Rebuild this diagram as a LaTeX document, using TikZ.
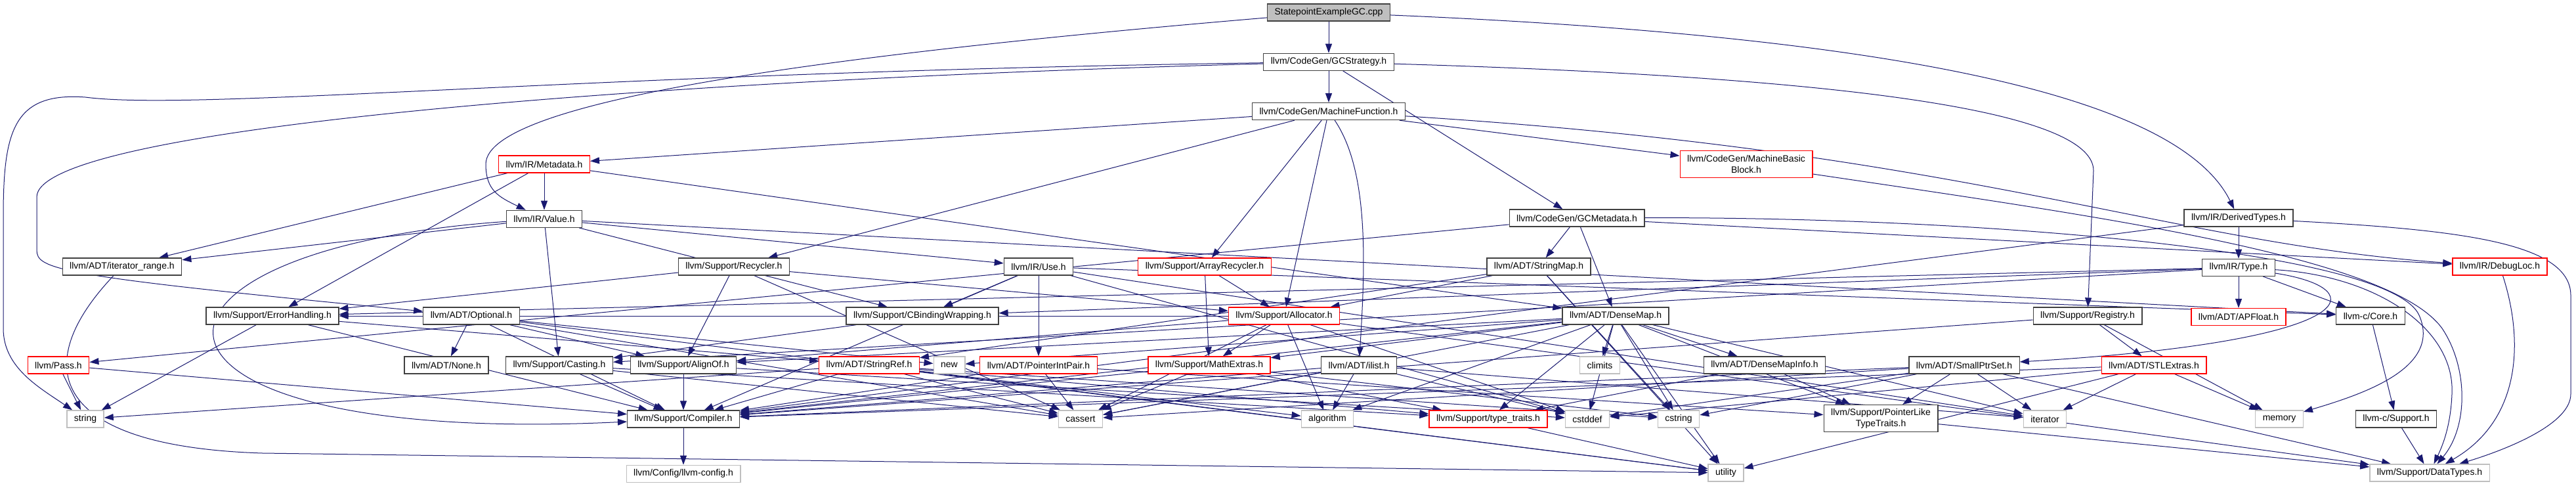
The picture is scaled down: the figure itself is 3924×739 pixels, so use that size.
\documentclass[tikz,border=0pt]{standalone}
\usepackage{fontspec}
\setmainfont{Liberation Sans}
\usetikzlibrary{arrows.meta,positioning}
\definecolor{edgeblue}{RGB}{25,25,112}
\definecolor{srcgrey}{RGB}{191,191,191}
\definecolor{sysgrey}{RGB}{191,191,191}
\definecolor{cutred}{RGB}{255,0,0}
\pgfdeclarelayer{back}
\pgfsetlayers{back,main}

\begin{document}
\begin{tikzpicture}[x=0.5pt,y=-0.5pt,node distance=24pt,
  every node/.style={font=\fontsize{7}{8.4}\selectfont},
  hdr/.style={draw=black!75,line width=0.65pt,fill=white,inner xsep=5.5pt,inner ysep=1pt,
              minimum height=13pt,align=center},
  cut/.style={hdr,draw=cutred},
  sys/.style={hdr,draw=sysgrey},
  srcfile/.style={hdr,fill=srcgrey},
  ar/.style={-{Triangle[length=7pt,width=5pt]},edgeblue,line width=0.5pt}]

\useasboundingbox (0,0) rectangle (3924,739);

\node[srcfile] (root) at (2024,19) {StatepointExampleGC.cpp};
\node[hdr,below=of root] (gcs) {llvm/CodeGen/GCStrategy.h};
\node[hdr,below=of gcs] (mf) {llvm/CodeGen/MachineFunction.h};

\node[cut] (meta) at (829,250) {llvm/IR/Metadata.h};
\node[cut,minimum height=20.5pt] (mbb) at (2660,250) {llvm/CodeGen/MachineBasic\\Block.h};

\node[hdr,below=28pt of meta] (val) {llvm/IR/Value.h};
\node[hdr] (gcmeta) at (2402,332) {llvm/CodeGen/GCMetadata.h};
\node[hdr] (dtypes) at (3410,332) {llvm/IR/DerivedTypes.h};

\node[hdr] (itr) at (186,406) {llvm/ADT/iterator\_range.h};
\node[hdr] (recyc) at (1118,406) {llvm/Support/Recycler.h};
\node[hdr] (use) at (1582,406) {llvm/IR/Use.h};
\node[cut] (arecyc) at (1835,406) {llvm/Support/ArrayRecycler.h};
\node[hdr] (smap) at (2344,406) {llvm/ADT/StringMap.h};
\node[hdr,below=of dtypes] (type) {llvm/IR/Type.h};
\node[cut] (dloc) at (3808,406) {llvm/IR/DebugLoc.h};

\node[hdr] (errh) at (415,481) {llvm/Support/ErrorHandling.h};
\node[hdr] (opt) at (718,481) {llvm/ADT/Optional.h};
\node[hdr] (cbind) at (1405,481) {llvm/Support/CBindingWrapping.h};
\node[cut] (alloc) at (1956,481) {llvm/Support/Allocator.h};
\node[hdr] (dmap) at (2461,481) {llvm/ADT/DenseMap.h};
\node[hdr] (reg) at (3180,481) {llvm/Support/Registry.h};
\node[cut,below=of type] (apf) {llvm/ADT/APFloat.h};
\node[hdr] (ccore) at (3611,481) {llvm-c/Core.h};

\node[cut] (pass) at (89,556) {llvm/Pass.h};
\node[hdr] (none) at (680,556) {llvm/ADT/None.h};
\node[hdr] (cast) at (852,556) {llvm/Support/Casting.h};
\node[hdr] (align) at (1041,556) {llvm/Support/AlignOf.h};
\node[cut] (sref) at (1324,556) {llvm/ADT/StringRef.h};
\node[sys] (new) at (1446,556) {new};
\node[cut] (pip) at (1582,556) {llvm/ADT/PointerIntPair.h};
\node[cut] (math) at (1842,556) {llvm/Support/MathExtras.h};
\node[hdr] (ilist) at (2070,556) {llvm/ADT/ilist.h};
\node[sys] (climits) at (2437,556) {climits};
\node[hdr] (dmi) at (2688,556) {llvm/ADT/DenseMapInfo.h};
\node[hdr] (sps) at (2992,556) {llvm/ADT/SmallPtrSet.h};
\node[cut] (stlx) at (3281,556) {llvm/ADT/STLExtras.h};

\node[sys] (str) at (130,638) {string};
\node[hdr] (comp) at (1041,638) {llvm/Support/Compiler.h};
\node[sys] (cassert) at (1646,638) {cassert};
\node[sys] (algo) at (2022,638) {algorithm};
\node[cut] (tt) at (2267,638) {llvm/Support/type\_traits.h};
\node[sys] (cstddef) at (2418,638) {cstddef};
\node[sys] (cstring) at (2557,638) {cstring};
\node[hdr,minimum height=20.5pt] (plt) at (2865,637) {llvm/Support/PointerLike\\TypeTraits.h};
\node[sys] (iter) at (3115,638) {iterator};
\node[sys] (mem) at (3472,638) {memory};
\node[hdr] (csup) at (3650,638) {llvm-c/Support.h};

\node[sys,below=28pt of comp] (cfg) {llvm/Config/llvm-config.h};
\node[sys] (util) at (2629,720) {utility};
\node[sys] (dt) at (3701,720) {llvm/Support/DataTypes.h};

\begin{pgfonlayer}{back}
\fill[white] (0,0) rectangle (3924,739);
\foreach \a/\b in {root/gcs,gcs/mf,gcs/gcmeta,mf/meta,mf/recyc,mf/arecyc,mf/alloc,mf/mbb,
  meta/val,meta/itr,meta/errh,meta/dmap,val/itr,val/use,val/cbind,val/cast,val/ccore,
  gcmeta/dmap,gcmeta/smap,gcmeta/dloc,gcmeta/pass,dtypes/type,dtypes/comp,
  recyc/align,recyc/alloc,recyc/errh,recyc/cassert,use/pip,use/cbind,use/comp,use/ccore,use/cstddef,use/iter,
  arecyc/alloc,arecyc/math,smap/sref,smap/alloc,smap/cstring,smap/util,
  type/apf,type/ccore,type/cbind,type/cast,type/errh,
  errh/sref,errh/comp,errh/str,opt/none,opt/align,opt/comp,opt/cassert,opt/new,opt/util,cbind/cast,
  alloc/align,alloc/math,alloc/dt,alloc/algo,alloc/cassert,alloc/cstddef,alloc/errh,
  dmap/dmi,dmap/align,dmap/comp,dmap/math,dmap/plt,dmap/tt,dmap/algo,dmap/cassert,dmap/climits,
  dmap/cstddef,dmap/cstring,dmap/iter,dmap/new,dmap/util,
  reg/stlx,reg/comp,reg/mem,ccore/csup,pass/comp,pass/str,cast/comp,cast/tt,cast/cassert,
  align/comp,align/cstddef,sref/comp,sref/str,sref/cassert,sref/cstring,sref/tt,sref/algo,sref/util,
  pip/comp,pip/plt,pip/cassert,math/comp,math/cassert,math/tt,math/cstring,
  ilist/comp,ilist/algo,ilist/cassert,ilist/cstddef,ilist/iter,dmi/plt,dmi/tt,
  sps/comp,sps/dt,sps/plt,sps/cassert,sps/cstddef,sps/cstring,sps/iter,
  stlx/comp,stlx/cstddef,stlx/iter,stlx/mem,stlx/util,comp/cfg,tt/util,plt/dt,csup/dt}
  \draw[ar] (\a) -- (\b);

\draw[ar] (root) .. controls (1300,80) and (740,150) .. (740,250) .. controls (740,290) and (760,300) .. (val);
\draw[ar] (root) .. controls (3000,60) and (3330,170) .. (dtypes);
\draw[ar] (gcs) .. controls (900,110) and (300,170) .. (130,148) .. controls (20,140) and (5,200) .. (5,330)
  -- (5,500) .. controls (5,560) and (60,590) .. (str);
\draw[ar] (gcs) .. controls (900,125) and (56,200) .. (56,300) -- (56,380) .. controls (56,410) and (80,420) .. (opt);
\draw[ar] (gcs) .. controls (2900,120) and (3189,180) .. (3189,260) -- (reg);
\draw[ar] (mf) .. controls (2085,260) and (2080,400) .. (ilist);
\draw[ar] (mf) .. controls (3000,230) and (3300,370) .. (dloc);
\draw[ar] (val) .. controls (150,380) and (150,680) .. (comp);
\draw[ar] (itr) .. controls (40,560) and (80,680) .. (400,690) -- (util);
\draw[ar] (mbb) .. controls (3200,330) and (3640,390) .. (3720,500) .. controls (3760,560) and (3760,650) .. (dt);
\draw[ar] (type) .. controls (3620,420) and (3740,500) .. (3735,600) .. controls (3733,650) and (3720,680) .. (dt);
\draw[ar] (gcmeta) .. controls (3000,330) and (3640,380) .. (3685,480) .. controls (3720,560) and (3600,600) .. (mem);
\draw[ar] (dloc) .. controls (3845,520) and (3840,640) .. (dt);
\draw[ar] (dtypes) .. controls (3750,350) and (3916,370) .. (3916,450) -- (3916,600)
  .. controls (3916,650) and (3800,690) .. (dt);
\draw[ar] (type) .. controls (3620,440) and (3600,520) .. (sps);
\end{pgfonlayer}
\end{tikzpicture}
\end{document}
